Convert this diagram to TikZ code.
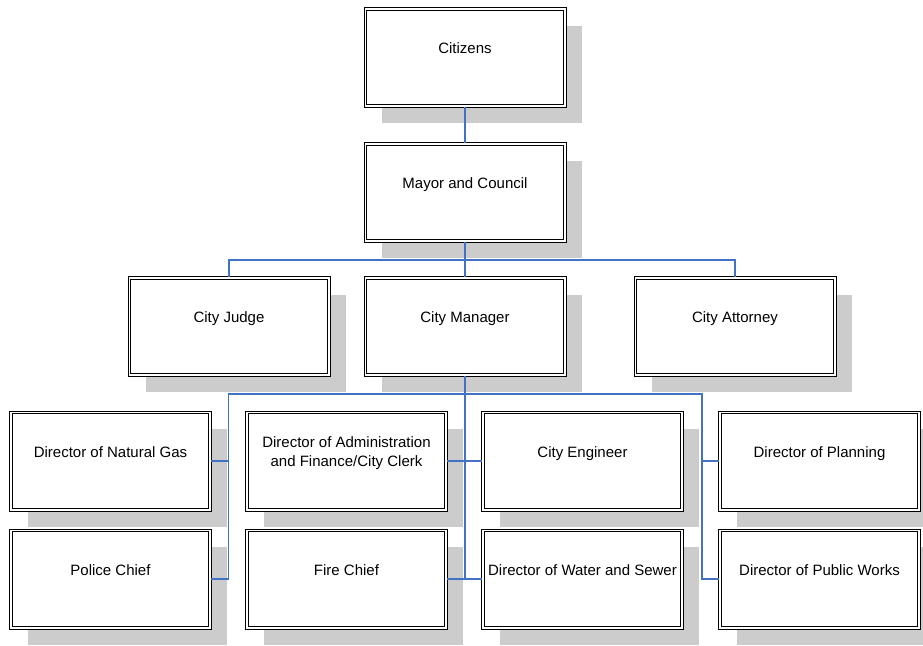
\documentclass[tikz,border=0pt]{standalone}
\usepackage{fontspec}
\setmainfont{Liberation Sans}
\usetikzlibrary{shadows}
\definecolor{linkblue}{RGB}{66,114,196}
\definecolor{shadowgray}{RGB}{204,204,204}
\begin{document}
\begin{tikzpicture}[x=1pt,y=-1pt,
  orgbox/.style={rectangle, draw=black, double=white, line width=1pt, double distance=1.6pt,
    fill=white, minimum width=199.4pt, minimum height=97.4pt, inner sep=0pt,
    font=\fontsize{15}{19}\selectfont, text height=11pt, text depth=18.2pt,
    general shadow={fill=shadowgray, shadow xshift=17pt, shadow yshift=-17pt}},
  twoline/.style={text height=30pt},
  link/.style={draw=linkblue, line width=1.3pt}]
\useasboundingbox (0,0) rectangle (923,645);
\clip (0,0) rectangle (923,645);
\fill[white] (0,0) rectangle (923,645);
% rows
\node[orgbox] (cit) at (465,57.5) {Citizens};
\node[orgbox] (may) at (465,192.5) {Mayor and Council};
\node[orgbox] (jud) at (229,326.5) {City Judge};
\node[orgbox] (man) at (465,326.5) {City Manager};
\node[orgbox] (att) at (735,326.5) {City Attorney};
\node[orgbox] (gas) at (110.5,461) {Director of Natural Gas};
\node[orgbox,twoline] (adm) at (346.5,461) {\begin{tabular}[b]{@{}c@{}}Director of Administration\\and Finance/City Clerk\end{tabular}};
\node[orgbox] (eng) at (582.5,461) {City Engineer};
\node[orgbox] (pla) at (819.5,461) {Director of Planning};
\node[orgbox] (pol) at (110.5,579) {Police Chief};
\node[orgbox] (fir) at (346.5,579) {Fire Chief};
\node[orgbox] (wat) at (582.5,579) {Director of Water and Sewer};
\node[orgbox] (pub) at (819.5,579) {Director of Public Works};
% connectors
\coordinate (mbus) at (465,260);
\coordinate (lbus) at (228.5,394);
\coordinate (rbus) at (702,394);
\draw[link] (cit.south) -- (may.north);
\draw[link] (may.south) -- (mbus);
\draw[link] (jud.north) |- (mbus) -| (att.north);
\draw[link] (mbus) -- (man.north);
\draw[link] (man.south) -- (man.south |- fir.east);
\draw[link] (pol.east) -| (lbus) -- (rbus) |- (pub.west);
\draw[link] (gas.east) -- (gas.east -| lbus);
\draw[link] (pla.west) -- (pla.west -| rbus);
\draw[link] (adm.east) -- (eng.west);
\draw[link] (fir.east) -- (wat.west);
\end{tikzpicture}
\end{document}
